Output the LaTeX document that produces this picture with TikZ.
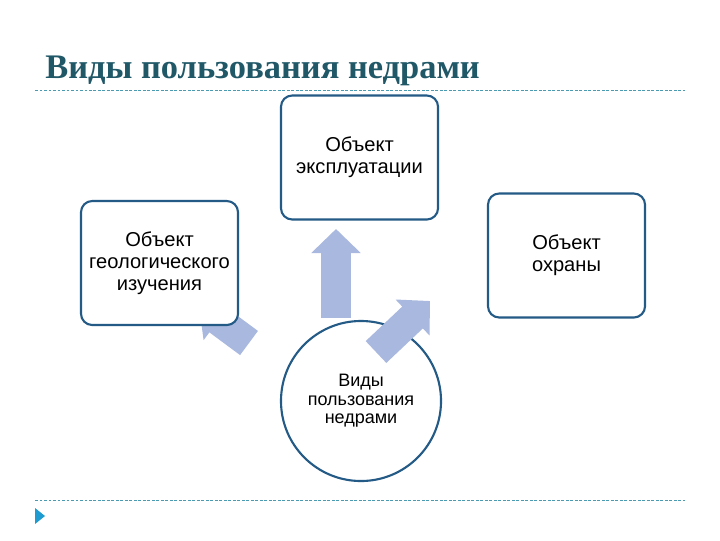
\documentclass[tikz,border=0pt]{standalone}
\usepackage{fontspec}
\setmainfont{Liberation Serif}
\setsansfont{Liberation Sans}
\usetikzlibrary{arrows.meta}
\definecolor{cTitle}{HTML}{215868}
\definecolor{cRule}{HTML}{4A9AB2}
\definecolor{cEdge}{HTML}{245A86}
\definecolor{cArrow}{HTML}{A9B8DE}
\definecolor{cMark}{HTML}{1E9BD0}
\tikzset{
  title/.style={font=\bfseries\fontsize{24.5}{28}\selectfont, text=cTitle, inner sep=0pt},
  rule/.style={draw=cRule, line width=0.6pt, dash pattern=on 2pt off 1.2pt},
  objbox/.style={draw=cEdge, line width=1.5pt, rounded corners=8pt, fill=white,
    minimum width=3.925cm, minimum height=3.1cm, align=center,
    font=\sffamily\fontsize{14.3}{15.6}\selectfont},
  hub/.style={circle, draw=cEdge, line width=1.5pt, fill=white, minimum size=4cm,
    align=center, font=\sffamily\fontsize{12.8}{13.2}\selectfont},
  fat/.style={draw=cArrow, line width=0.75cm, -{Triangle[length=6mm, width=12mm]}},
}
\begin{document}
\begin{tikzpicture}[x=0.025cm, y=-0.025cm]
% page frame 720 x 540 (1 unit = 1 px of the slide)
\fill[white] (0,0) rectangle (720,540);
\useasboundingbox (0,0) rectangle (720,540);

% heading and rules
\node[title, anchor=base west] (head) at (45,78) {Виды пользования недрами};
\draw[rule] (35,90) -- (685,90);
\draw[rule] (35,500) -- (685,500);
\fill[cMark] (35,508) -- (45,516) -- (35,524) -- cycle;

% centre
\node[hub] (kinds) at (361,401) {Виды\\ пользования\\ недрами};

% block arrows (under the boxes)
\coordinate (upS) at (336,318);
\coordinate (upE) at (336,229);
\coordinate (nrS) at (376,352);
\coordinate (nrE) at (430,301);
\coordinate (nlS) at (249,343);
\coordinate (nlE) at (199,306);
\draw[fat] (upS) -- (upE);
\draw[fat] (nrS) -- (nrE);
\draw[fat] (nlS) -- (nlE);

% objects
\node[objbox] (expl) at (359.5,157.5) {Объект\\ эксплуатации};
\node[objbox] (geo)  at (159.5,263)   {Объект\\ геологического\\ изучения};
\node[objbox] (prot) at (566.5,255.5) {Объект\\ охраны};
\end{tikzpicture}
\end{document}
